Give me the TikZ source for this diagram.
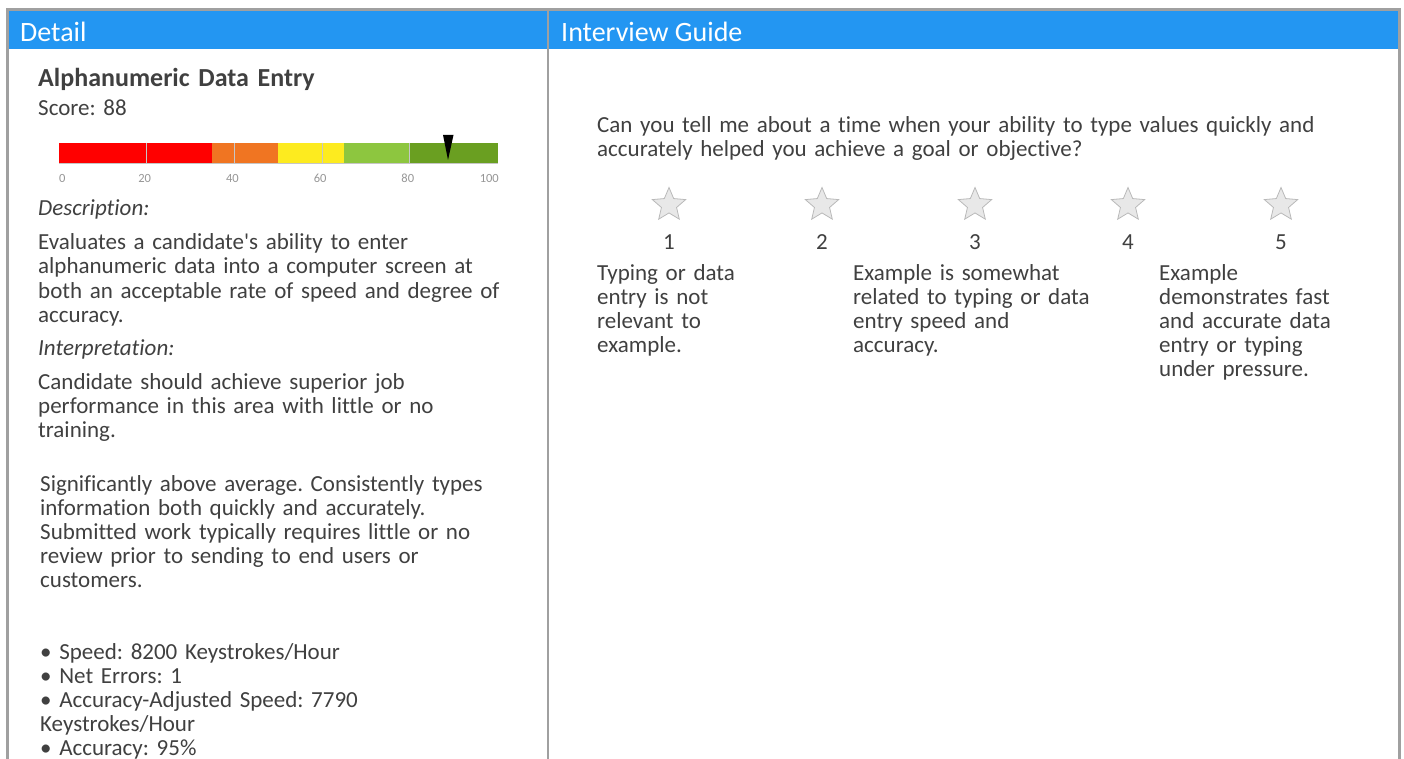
\documentclass[tikz,border=0pt]{standalone}
\usepackage{fontspec}
\setmainfont{Carlito}[Ligatures=NoCommon]
\usepackage{xcolor}
\usetikzlibrary{shapes.geometric,positioning}
\definecolor{hdrblue}{RGB}{35,150,242}
\definecolor{framegray}{RGB}{160,160,160}
\definecolor{txtgray}{RGB}{64,64,64}
\definecolor{tickgray}{RGB}{150,150,150}
\definecolor{starfill}{RGB}{232,232,232}
\definecolor{stargray}{RGB}{185,185,185}
\definecolor{gred}{RGB}{255,0,0}
\definecolor{gorange}{RGB}{240,117,34}
\definecolor{gyellow}{RGB}{253,235,31}
\definecolor{glight}{RGB}{141,198,63}
\definecolor{gdark}{RGB}{106,159,33}
\frenchspacing
\begin{document}
\begin{tikzpicture}[x=1pt,y=-1pt]
\tikzstyle{header} = [anchor=base west, text=white, inner sep=0pt,
font=\fontsize{28}{32}\selectfont]
\tikzstyle{body} = [anchor=base west, text=txtgray, inner sep=0pt,
text width=500pt, align=left, font=\fontsize{23}{24}\selectfont]
\tikzstyle{caption} = [body, font=\fontsize{23}{24}\selectfont\itshape]
\tikzstyle{tick} = [anchor=base, text=tickgray, inner sep=0pt,
font=\fontsize{12.5}{14}\selectfont]
\tikzstyle{ratestar} = [star, star points=5, star point ratio=2.2, draw=stargray,
fill=starfill, thick, minimum size=35pt, inner sep=0pt]
\tikzstyle{num} = [anchor=base, text=txtgray, inner sep=0pt,
font=\fontsize{23}{24}\selectfont]
\tikzstyle{frame} = [draw=framegray, line width=2.5pt]

\useasboundingbox (0,0) rectangle (1404,759);

% header row
\fill[hdrblue] (7.5,11) rectangle (1399.5,49);
\draw[frame] (7.5,759) -- (7.5,9.5) -- (1399.5,9.5) -- (1399.5,759);
\draw[frame] (548,9.5) -- (548,759);
\node[header] (detail) at (20,42) {Detail};
\node[header] (guide) at (561,42) {Interview Guide};

% left panel
\node[body, font=\fontsize{26}{26}\selectfont\bfseries] (title) at (38,87) {Alphanumeric Data Entry};
\node[body] (score) at (38,116) {Score: 88};

% gauge
\foreach \a/\b/\c in {0/35/gred, 35/50/gorange, 50/65/gyellow, 65/80/glight, 80/100/gdark}
  \fill[\c] ({59+\a*4.385},143) rectangle ({59+\b*4.385},163);
\draw[gray!45, line width=0.8pt] (59,163) -- (497.5,163);
\foreach \v in {20,40,60,80}
  \draw[gray!45, line width=1.2pt] ({59+\v*4.385},143) -- ({59+\v*4.385},163);
\fill[black] (443,135) -- (453.5,135) -- (448,160) -- cycle;
\node[tick, anchor=base west] (t0) at (59,183) {0};
\foreach \v in {20,40,60,80}
  \node[tick] (t\v) at ({57+\v*4.385},183) {\v};
\node[tick, anchor=base east] (t100) at (499,183) {100};

\node[caption] (desc) at (38,216) {Description:};
\node[body] (desctext) at (38,250) {Evaluates a candidate\textquotesingle s ability to enter\\
alphanumeric data into a computer screen at\\
both an acceptable rate of speed and degree of\\
accuracy.};
\node[caption] (interp) at (38,355) {Interpretation:};
\node[body] (interptext) at (38,389) {Candidate should achieve superior job\\
performance in this area with little or no\\
training.};
\node[body] (level) at (40,491) {Significantly above average. Consistently types\\
information both quickly and accurately.\\
Submitted work typically requires little or no\\
review prior to sending to end users or\\
customers.};
\node[body] (stats) at (40,659) {• Speed: 8200 Keystrokes/Hour\\
• Net Errors: 1\\
• Accuracy-Adjusted Speed: 7790\\
Keystrokes/Hour\\
• Accuracy: 95\%};

% right panel
\node[body, text width=760pt] (question) at (597,133) {Can you tell me about a time when your ability to type values quickly and\\
accurately helped you achieve a goal or objective?};
\foreach \i/\x in {1/669, 2/822, 3/975, 4/1128, 5/1281} {
  \node[ratestar] (star\i) at (\x,205) {};
  \node[num] (num\i) at (\x,250) {\i};
}
\node[body, text width=200pt] (rate1) at (597,280) {Typing or data\\
entry is not\\
relevant to\\
example.};
\node[body, text width=260pt] (rate3) at (853,280) {Example is somewhat\\
related to typing or data\\
entry speed and\\
accuracy.};
\node[body, text width=220pt] (rate5) at (1159,280) {Example\\
demonstrates fast\\
and accurate data\\
entry or typing\\
under pressure.};
\end{tikzpicture}
\end{document}
